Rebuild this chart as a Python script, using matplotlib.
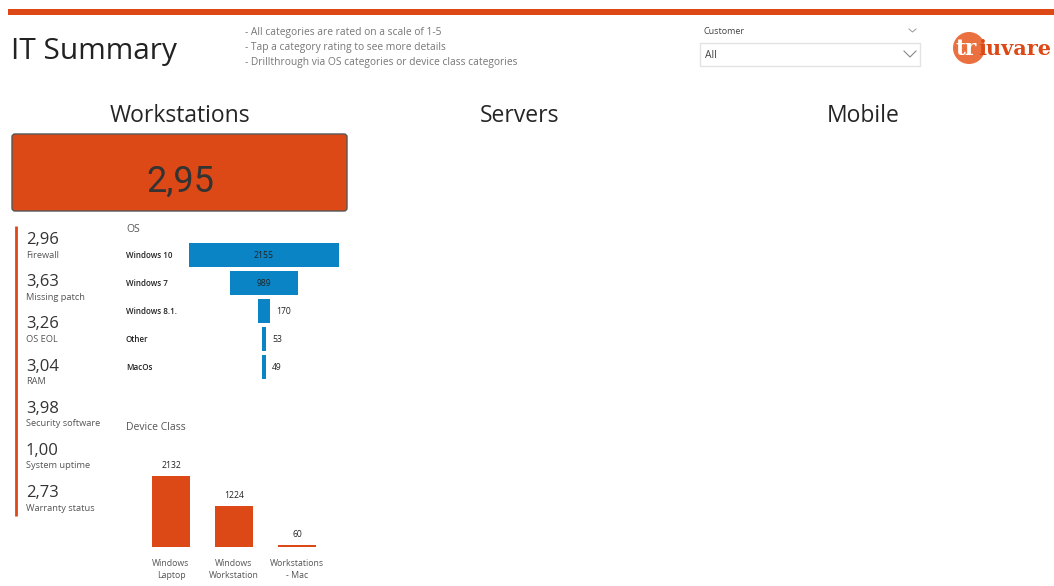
import numpy as np
import matplotlib.pyplot as plt
from matplotlib.patches import Rectangle, FancyBboxPatch, Circle
from matplotlib.transforms import blended_transform_factory

plt.rcParams['font.family'] = ['Open Sans', 'DejaVu Sans']

orange = '#DC4916'
blue = '#0B84C6'
dark = '#333333'
grey = '#555555'

# data
notes = ['- All categories are rated on a scale of 1-5',
         '- Tap a category rating to see more details',
         '- Drillthrough via OS categories or device class categories']
sections = ['Workstations', 'Servers', 'Mobile']
overall_score = '2,95'
kpi_names = ['Firewall', 'Missing patch', 'OS EOL', 'RAM',
             'Security software', 'System uptime', 'Warranty status']
kpi_values = [2.96, 3.63, 3.26, 3.04, 3.98, 1.00, 2.73]
os_names = ['Windows 10', 'Windows 7', 'Windows 8.1.', 'Other', 'MacOs']
os_counts = [2155, 989, 170, 53, 49]
dev_names = ['Windows\nLaptop', 'Windows\nWorkstation', 'Workstations\n- Mac']
dev_counts = [2132, 1224, 60]

W, H = 1054, 586
fig = plt.figure(figsize=(W / 100, H / 100), dpi=100)

# background layer in pixel coordinates
bg = fig.add_axes([0, 0, 1, 1])
bg.set_xlim(0, W)
bg.set_ylim(H, 0)
bg.axis('off')

bg.add_patch(Rectangle((8, 9), W - 8, 6, color=orange, lw=0))
bg.text(11, 48, 'IT Summary', fontsize=21.5, color='#222222', va='center_baseline')
for i, n in enumerate(notes):
    bg.text(245, 32 + i * 15.5, n, fontsize=7.4, color='#777777', va='center')

# slicer
bg.text(703, 31, 'Customer', fontsize=6.5, color='#444444', va='center')
bg.plot([909, 912.5, 916], [29, 32, 29], color='#999999', lw=0.7)
bg.add_patch(Rectangle((700, 43), 220, 23, fc='white', ec='#E3E3E3', lw=1))
bg.text(705, 55, 'All', fontsize=7.5, color='#444444', va='center')
bg.plot([904, 910, 916], [51, 57, 51], color='#888888', lw=0.8)

# logo
bg.add_patch(Circle((969, 48), 16, color='#E8612B', lw=0, alpha=0.9))
bg.text(955, 49, 'tr', fontsize=15.5, color='white', fontweight='bold',
        family='DejaVu Serif', va='center')
bg.text(978, 49, 'iuvare', fontsize=15, color=orange, fontweight='bold',
        family='DejaVu Serif', va='center')

# section titles
for x, s in zip([180, 520, 863], sections):
    bg.text(x, 113, s, fontsize=16.5, color='#252525', ha='center', va='center_baseline')

# score card
bg.add_patch(FancyBboxPatch((12, 134), 335, 77, boxstyle='round,pad=0,rounding_size=3',
                            fc=orange, ec='#555555', lw=1))
bg.text(180, 178, overall_score, fontsize=26, color=dark, ha='center', va='center_baseline',
        family=['Roboto', 'DejaVu Sans'])

# KPI list
bg.plot([16, 16], [226, 516], color=orange, lw=2, solid_capstyle='butt')
for i, (n, v) in enumerate(zip(kpi_names, kpi_values)):
    y = 238 + i * 42.2
    bg.text(26, y, f'{v:.2f}'.replace('.', ','), fontsize=12, color=dark, va='center_baseline')
    bg.text(26, y + 17, n, fontsize=6.7, color=grey, va='center')

# OS funnel
bg.text(126, 229, 'OS', fontsize=7.5, color=grey, va='center')
ax1 = fig.add_axes([189 / W, (H - 381) / H, 150 / W, 140 / H])
ax1.patch.set_alpha(0)
ypos = np.arange(len(os_names))
ax1.barh(ypos, os_counts, left=-np.array(os_counts) / 2, height=0.86, color=blue)
ax1.set_xlim(-max(os_counts) / 2, max(os_counts) / 2)
ax1.set_ylim(len(os_names) - 0.5, -0.5)
ax1.axis('off')
tr = blended_transform_factory(fig.transFigure, ax1.transData)
for y, n, v in zip(ypos, os_names, os_counts):
    ax1.text(126 / W, y, n, transform=tr, fontsize=5.8, color='#222222',
             fontweight='semibold', va='center_baseline')
    if v > 500:
        ax1.text(0, y, str(v), fontsize=6.2, color='#222222', ha='center',
                 va='center_baseline')
    else:
        ax1.annotate(str(v), (v / 2, y), xytext=(4.5, 0), textcoords='offset points',
                     fontsize=6.2, color='#222222', va='center_baseline')

# Device class columns
bg.text(126, 428, 'Device Class', fontsize=7.5, color=grey, va='center')
ax2 = fig.add_axes([139.5 / W, (H - 547) / H, 189 / W, 100 / H])
ax2.patch.set_alpha(0)
xpos = np.arange(len(dev_names))
ax2.bar(xpos, dev_counts, width=0.59, color=orange)
ax2.set_xlim(-0.5, len(dev_names) - 0.5)
ax2.set_ylim(0, max(dev_counts) * 100 / 71)
for x, v in zip(xpos, dev_counts):
    ax2.annotate(str(v), (x, v), xytext=(0, 8.5), textcoords='offset points',
                 fontsize=6.2, color='#222222', ha='center', va='center_baseline')
ax2.set_xticks(xpos)
ax2.set_xticklabels(dev_names, fontsize=6.3, color=grey, linespacing=1.35)
ax2.tick_params(axis='x', length=0, pad=9)
ax2.set_yticks([])
for s in ax2.spines.values():
    s.set_visible(False)

fig.savefig('out.png', dpi=100)
